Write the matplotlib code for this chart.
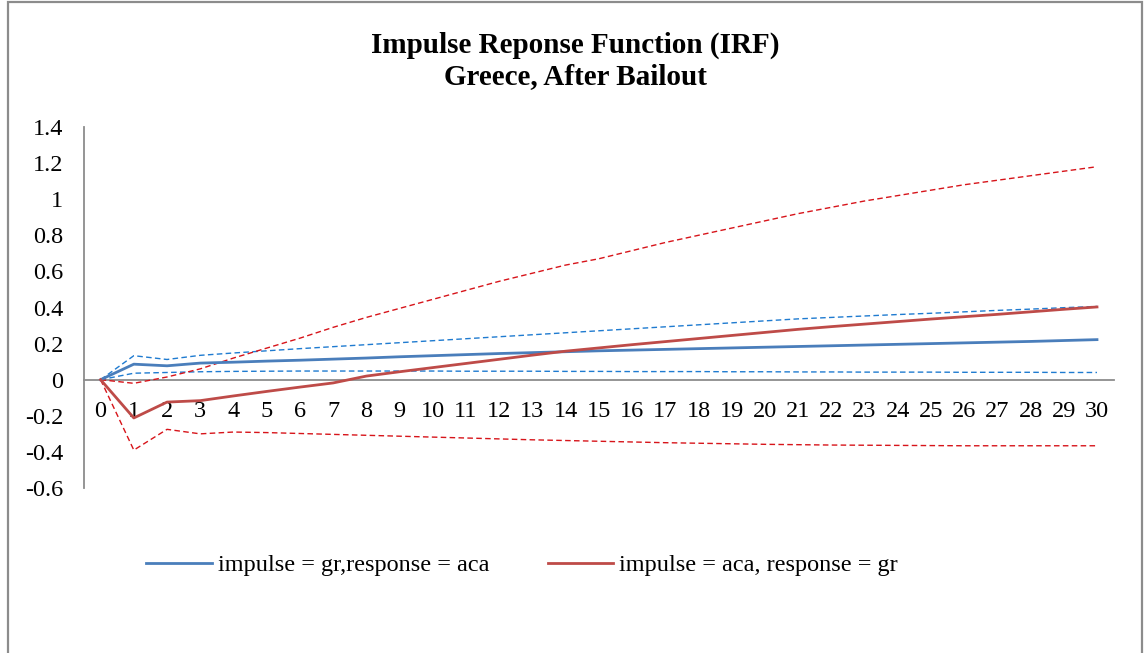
import matplotlib
matplotlib.use("Agg")
import matplotlib.pyplot as plt
from matplotlib.patches import Rectangle

periods = list(range(31))
tick_labels = [str(p) for p in periods]

gr_aca = [0.0, 0.086, 0.077, 0.092, 0.097, 0.103, 0.108, 0.114, 0.120, 0.127,
          0.133, 0.139, 0.145, 0.150, 0.155, 0.160, 0.164, 0.168, 0.172, 0.176,
          0.180, 0.184, 0.188, 0.192, 0.196, 0.200, 0.204, 0.208, 0.212, 0.217, 0.222]
gr_aca_upper = [0.0, 0.133, 0.112, 0.135, 0.148, 0.160, 0.172, 0.183, 0.194, 0.205,
                0.216, 0.227, 0.238, 0.249, 0.260, 0.271, 0.282, 0.293, 0.304, 0.315,
                0.326, 0.337, 0.345, 0.353, 0.361, 0.368, 0.376, 0.384, 0.391, 0.399, 0.406]
gr_aca_lower = [0.0, 0.036, 0.040, 0.044, 0.046, 0.047, 0.048, 0.048, 0.048, 0.048,
                0.048, 0.047, 0.047, 0.047, 0.046, 0.046, 0.045, 0.045, 0.045, 0.044,
                0.044, 0.043, 0.043, 0.042, 0.042, 0.042, 0.041, 0.041, 0.041, 0.040, 0.040]

aca_gr = [0.0, -0.212, -0.124, -0.116, -0.090, -0.065, -0.041, -0.018, 0.020, 0.044,
          0.067, 0.090, 0.113, 0.136, 0.158, 0.176, 0.194, 0.211, 0.228, 0.245,
          0.262, 0.279, 0.294, 0.308, 0.322, 0.336, 0.349, 0.362, 0.376, 0.390, 0.403]
aca_gr_upper = [0.0, -0.020, 0.015, 0.060, 0.120, 0.175, 0.230, 0.290, 0.345, 0.395,
                0.445, 0.495, 0.545, 0.590, 0.635, 0.670, 0.715, 0.760, 0.800, 0.840,
                0.880, 0.920, 0.955, 0.990, 1.020, 1.050, 1.080, 1.105, 1.130, 1.155, 1.180]
aca_gr_lower = [0.0, -0.390, -0.275, -0.300, -0.290, -0.293, -0.298, -0.303, -0.308, -0.313,
                -0.318, -0.323, -0.328, -0.333, -0.337, -0.341, -0.345, -0.349, -0.352, -0.355,
                -0.358, -0.360, -0.362, -0.363, -0.364, -0.365, -0.366, -0.366, -0.366, -0.366, -0.366]

y_ticks = [-0.6, -0.4, -0.2, 0, 0.2, 0.4, 0.6, 0.8, 1, 1.2, 1.4]
y_tick_labels = ["-0.6", "-0.4", "-0.2", "0", "0.2", "0.4", "0.6", "0.8", "1", "1.2", "1.4"]

plt.rcParams['font.family'] = ['Liberation Serif', 'DejaVu Serif']

W, H = 1144, 653
fig = plt.figure(figsize=(W / 100, H / 100), dpi=100)

# outer chart border
fig.patches.append(Rectangle((8 / W, -0.01), (1142 - 8) / W, 1.01 - 2 / H,
                             transform=fig.transFigure, fill=False,
                             edgecolor='#8c8c8c', linewidth=1.6))

ax = fig.add_axes([84 / W, 1 - 488 / H, (1113.6 - 84) / W, (488 - 127) / H])

blue = '#4A7EBB'
red = '#BE4B48'
blue_d = '#1F7BD0'
red_d = '#D7141A'
dash = (0, (4, 2.4))

ax.plot(periods, gr_aca_upper, color=blue_d, lw=1.0, linestyle=dash, zorder=3)
ax.plot(periods, gr_aca_lower, color=blue_d, lw=1.0, linestyle=dash, zorder=3)
ax.plot(periods, aca_gr_upper, color=red_d, lw=1.0, linestyle=dash, zorder=3)
ax.plot(periods, aca_gr_lower, color=red_d, lw=1.0, linestyle=dash, zorder=3)
l1, = ax.plot(periods, gr_aca, color=blue, lw=2.0, zorder=4,
              label='impulse = gr,response = aca')
l2, = ax.plot(periods, aca_gr, color=red, lw=2.0, zorder=4,
              label='impulse = aca, response = gr')

ax.set_xlim(-0.5, 30.5)
ax.set_ylim(-0.6, 1.4)
for s in ['top', 'right']:
    ax.spines[s].set_visible(False)
ax.spines['left'].set_color('#8c8c8c')
ax.spines['left'].set_linewidth(1.3)
ax.spines['bottom'].set_position(('data', 0))
ax.spines['bottom'].set_color('#8c8c8c')
ax.spines['bottom'].set_linewidth(1.3)
ax.spines['bottom'].set_zorder(2)

ax.set_yticks(y_ticks)
ax.set_yticklabels(y_tick_labels, fontsize=17.5)
ax.set_xticks(periods)
ax.set_xticklabels(tick_labels, fontsize=17.5)
ax.tick_params(axis='y', length=0, pad=15)
ax.tick_params(axis='x', length=0, pad=15)

fig.text(575 / W, 1 - 45 / H, 'Impulse Reponse Function (IRF)', ha='center', va='center',
         fontsize=21, fontweight='bold')
fig.text(575 / W, 1 - 77 / H, 'Greece, After Bailout', ha='center', va='center',
         fontsize=21, fontweight='bold')

fig.legend(handles=[l1, l2], loc='center', bbox_to_anchor=(522 / W, 1 - 565 / H),
           ncol=2, frameon=False, fontsize=17.5, handlelength=2.7, handletextpad=0.25,
           columnspacing=2.4)

fig.savefig('out.png', dpi=100)
